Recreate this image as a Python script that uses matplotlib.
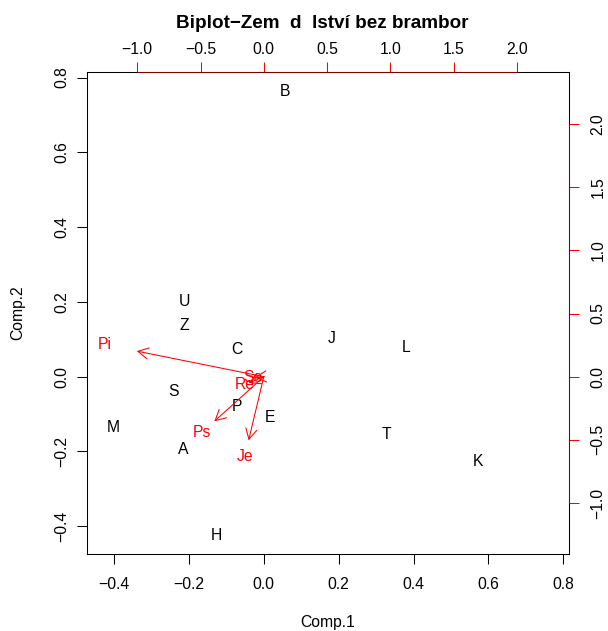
import matplotlib
matplotlib.use('Agg')
import matplotlib.pyplot as plt
import numpy as np

plt.rcParams['font.family'] = ['Liberation Sans', 'DejaVu Sans']
plt.rcParams['axes.unicode_minus'] = True

# scores (observations), primary axes
obs_labels = ['B', 'U', 'Z', 'C', 'J', 'L', 'S', 'P', 'E', 'M', 'A', 'T', 'K', 'H']
obs_x = [0.056, -0.213, -0.213, -0.072, 0.181, 0.379, -0.240, -0.072, 0.016, -0.403, -0.216, 0.328, 0.573, -0.128]
obs_y = [0.763, 0.200, 0.136, 0.072, 0.101, 0.077, -0.040, -0.080, -0.109, -0.136, -0.195, -0.155, -0.227, -0.424]

# loadings (variables), secondary axes
var_labels = ['Pi', 'Ps', 'Je', 'Re', 'Se']
var_x = [-1.255, -0.489, -0.150, -0.150, -0.090]
var_y = [0.253, -0.442, -0.630, -0.063, -0.008]

lim = (-0.473, 0.815)
ratio = 2.96
prim_ticks = [-0.4, -0.2, 0.0, 0.2, 0.4, 0.6, 0.8]
sec_ticks = [-1.0, -0.5, 0.0, 0.5, 1.0, 1.5, 2.0]

W, H = 608, 631
fs = 11.3
fig = plt.figure(figsize=(W / 100, H / 100), dpi=100)
pos = [86.7 / W, (H - 553.5) / H, 482.3 / W, 481.5 / H]
ax = fig.add_axes(pos)
ax.set_xlim(lim)
ax.set_ylim(lim)
for lab, x, y in zip(obs_labels, obs_x, obs_y):
    ax.text(x, y, lab, ha='center', va='center', fontsize=fs, color='black')
ax.set_xticks(prim_ticks)
ax.set_yticks(prim_ticks)
ax.tick_params(direction='out', length=7.2, width=0.75, labelsize=fs)
ax.tick_params(axis='x', pad=9.9)
ax.tick_params(axis='y', pad=5.4)
for lab in ax.get_yticklabels():
    lab.set_rotation(90)
    lab.set_va('center')
for sp in ax.spines.values():
    sp.set_linewidth(0.75)

# second layer for the loadings
ax2 = fig.add_axes(pos, frameon=False)
ax2.set_xlim(lim[0] * ratio, lim[1] * ratio)
ax2.set_ylim(lim[0] * ratio, lim[1] * ratio)
ax2.xaxis.tick_top()
ax2.yaxis.tick_right()
ax2.set_xticks(sec_ticks)
ax2.set_yticks(sec_ticks)
ax2.tick_params(direction='out', length=7.2, width=0.75, labelsize=fs,
                colors='red', labelcolor='black')
ax2.tick_params(axis='x', pad=3.8)
ax2.tick_params(axis='y', pad=8.1)
for lab in ax2.get_yticklabels():
    lab.set_rotation(90)
    lab.set_va('center')
top_y = lim[1] * ratio
right_x = lim[1] * ratio
ax2.plot([sec_ticks[0], sec_ticks[-1]], [top_y, top_y], color='#800000', lw=0.75, clip_on=False)
ax2.plot([right_x, right_x], [sec_ticks[0], sec_ticks[-1]], color='#800000', lw=0.75, clip_on=False)

for lab, x, y in zip(var_labels, var_x, var_y):
    ax2.annotate('', xy=(0.8 * x, 0.8 * y), xytext=(0, 0),
                 arrowprops=dict(arrowstyle='->,head_length=0.75,head_width=0.4',
                                 color='red', lw=0.75, shrinkA=0, shrinkB=0,
                                 mutation_scale=10))
    ax2.text(x, y, lab, ha='center', va='center', fontsize=fs, color='red')

cx = pos[0] + pos[2] / 2
cy = pos[1] + pos[3] / 2
fig.text(cx, 1 - 622 / H, 'Comp.1', ha='center', va='center', fontsize=fs)
fig.text(18 / W, cy, 'Comp.2', ha='center', va='center', rotation=90, fontsize=fs)
fig.text(322 / W, 1 - 23 / H, 'Biplot\u2212Zem  d  lství bez brambor',
         ha='center', va='center', fontsize=13.6, fontweight='bold')

fig.savefig('out.png', dpi=100)
plt.close(fig)
